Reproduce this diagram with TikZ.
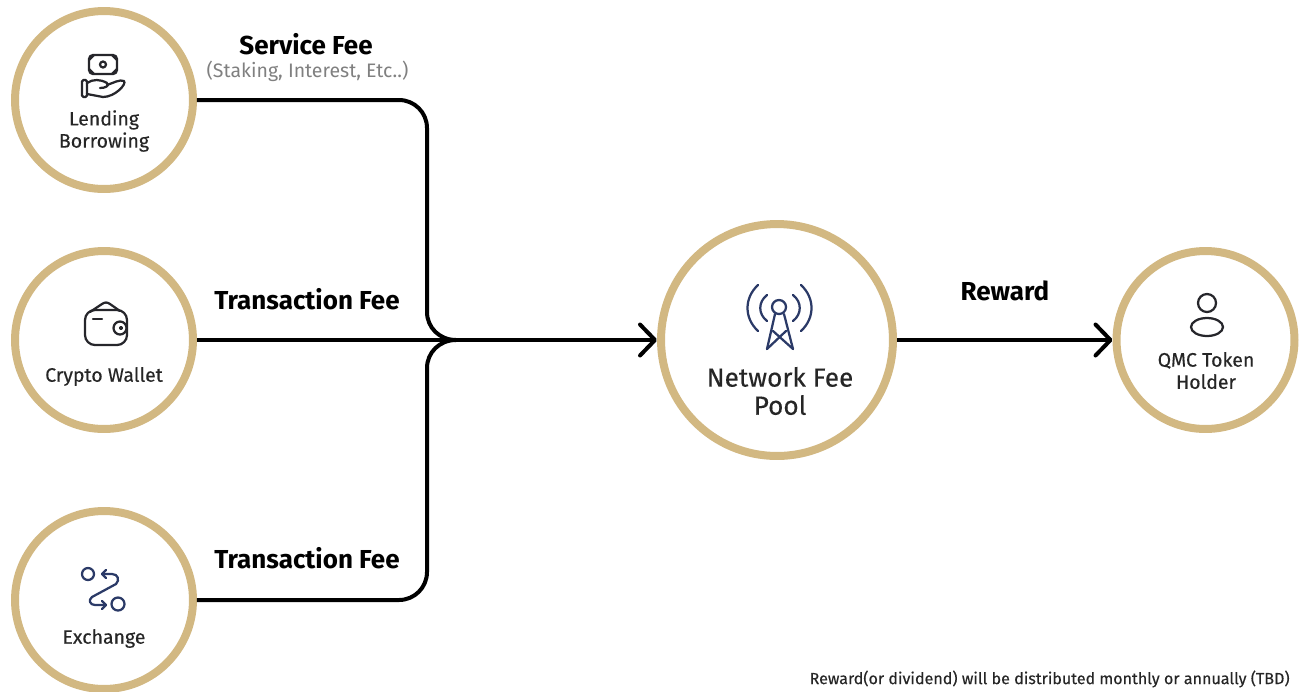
\documentclass[tikz,border=0pt]{standalone}
\usepackage{fontspec}
\setmainfont{Fira Sans}
\newfontfamily\medfont{Fira Sans}[FakeBold=0.3]
\usetikzlibrary{arrows.meta}
\definecolor{ringgold}{HTML}{D2B882}
\definecolor{iconnavy}{HTML}{2B3A67}
\definecolor{icondark}{HTML}{26262B}
\tikzset{
    ring/.style={circle,draw=ringgold,line width=0.16cm,minimum size=3.56cm,inner sep=0pt},
    bigring/.style={ring,minimum size=4.64cm},
    feeline/.style={line width=0.08cm,black},
    fullline/.style={line width=0.08cm,black,->,>={Straight Barb[length=0.3cm,width=0.62cm,round]}},
    feelabel/.style={inner sep=0pt,font=\bfseries\fontsize{14.8}{17}\selectfont},
    ringtext/.style={inner sep=0pt,align=center,text=black!85,font=\medfont\fontsize{11.1}{12.6}\selectfont},
    icon/.style={line width=0.045cm,icondark,line cap=round,line join=round},
    navyicon/.style={icon,iconnavy}
}
\begin{document}
\begin{tikzpicture}[x=0.02cm,y=-0.02cm]
    \useasboundingbox (0,0) rectangle (1301,691);

    % rings
    \node[ring] (lending) at (104,100) {};
    \node[ring] (wallet) at (104,340) {};
    \node[ring] (exchange) at (104,600) {};
    \node[bigring] (pool) at (777,340) {};
    \node[ring] (holder) at (1205.5,340) {};
    \coordinate (merge) at (456,340);

    % connectors
    \draw[feeline] (lending.east) -- (399,100) .. controls (414.5,100) and (427,112.5) .. (427,128) -- (427,312) .. controls (427,327.5) and (439.5,340) .. (merge);
    \draw[feeline] (exchange.east) -- (399,600) .. controls (414.5,600) and (427,587.5) .. (427,572) -- (427,368) .. controls (427,352.5) and (439.5,340) .. (merge);
    \draw[fullline] (wallet.east) -- (pool.west);
    \draw[fullline] (pool.east) -- (holder.west);

    % labels
    \node[feelabel] (servicefee) at (306,44) {Service Fee};
    \node[inner sep=0pt,text=black!50,font=\fontsize{11.1}{13}\selectfont] (servicenote) at (307.5,71) {(Staking, Interest, Etc..)};
    \node[feelabel] (walletfee) at (307,299.5) {Transaction Fee};
    \node[feelabel] (exchangefee) at (307,558.5) {Transaction Fee};
    \node[feelabel] (reward) at (1005,291) {Reward};

    \node[ringtext] (lendingname) at (104,131) {Lending\\Borrowing};
    \node[ringtext] (walletname) at (104,376.5) {Crypto Wallet};
    \node[ringtext] (exchangename) at (104,638.5) {Exchange};
    \node[ringtext,font=\medfont\fontsize{14.9}{16}\selectfont] (poolname) at (780,391) {Network Fee\\Pool};
    \node[ringtext] (holdername) at (1206,370.5) {QMC Token\\Holder};
    \node[anchor=east,inner sep=0pt,text=black!85,font=\medfont\fontsize{9.15}{11}\selectfont] (footnote) at (1290,679) {Reward(or dividend) will be distributed monthly or annually (TBD)};

    % lending icon
    \draw[icon,rounded corners=0.08cm] (89,55) rectangle (117,74);
    \draw[icon] (103,64.5) circle (3);
    \draw[icon] (89,60) -- (94,55) (117,60) -- (112,55) (89,69) -- (94,74) (117,69) -- (112,74);
    \draw[icon,rounded corners=0.03cm] (82,80) rectangle (87,97);
    \draw[icon] (87,83) .. controls (93,79) and (100,79) .. (107,83) .. controls (110,86) and (105,88) .. (100,88);
    \draw[icon] (107,85) .. controls (113,83) and (120,79) .. (124,81) .. controls (127,84) and (115,97) .. (103,97) -- (87,94);

    % wallet icon
    \draw[icon,rounded corners=0.2cm] (85,310) rectangle (127,345);
    \draw[icon] (90,312) -- (102,304) .. controls (105,302) and (107,302) .. (110,304) -- (120,311);
    \draw[icon] (93,319) -- (102,319);
    \draw[icon,fill=white] (120,328) circle (6.5);
    \draw[icon] (121,328) circle (1);

    % exchange icon
    \draw[navyicon] (88,574) circle (6) (118,604) circle (6.5);
    \draw[navyicon] (102,574) -- (112,574) .. controls (118,574) and (120,580) .. (116,584) -- (92,597) .. controls (88,600) and (90,605) .. (95,605) -- (106,605);
    \draw[navyicon] (106,570) -- (102,574) -- (106,578) (102,601) -- (106,605) -- (102,609);

    % tower icon
    \draw[navyicon] (779,307) circle (7);
    \draw[navyicon] (775,314) -- (767,349) (784,314) -- (793,349);
    \draw[navyicon] (773,331) -- (793,349) (786,331) -- (767,349);
    \draw[navyicon] (758,285) .. controls (744,298) and (744,318) .. (758,331);
    \draw[navyicon] (767,295) .. controls (758,302) and (758,314) .. (767,321);
    \draw[navyicon] (801,285) .. controls (815,298) and (815,318) .. (801,331);
    \draw[navyicon] (793,295) .. controls (802,302) and (802,314) .. (793,321);

    % person icon
    \draw[icon] (1207,303) circle (9);
    \draw[icon] (1207,327) ellipse (16 and 9);
\end{tikzpicture}
\end{document}
